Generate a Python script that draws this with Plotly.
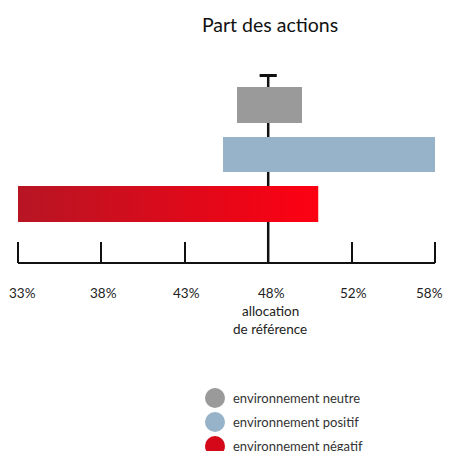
import plotly.graph_objects as go

# ---- data ----
categories = ["environnement neutre", "environnement positif", "environnement négatif"]
bar_start = [46.1, 45.3, 33.0]
bar_end = [50.0, 58.0, 51.0]
bar_colors = ["#9a9a9a", "#97b3c9", "#d00f1e"]
reference_value = 48
tick_vals = [33, 38, 43, 48, 53, 58]
tick_text = ["33%", "38%", "43%", "48%", "52%", "58%"]
title_text = "Part des actions"
reference_label = ["allocation", "de référence"]

# ---- layout geometry (page pixels; page body has an 8px margin) ----
OFF = 8
W = H = 451 - OFF
X0_PX, X1_PX = 18, 435          # page pixels of 33 % and 58 %
PAD = 3                          # keep end ticks off the plot edges
u_per_px = (tick_vals[-1] - tick_vals[0]) / (X1_PX - X0_PX)
x_range = [tick_vals[0] - PAD * u_per_px, tick_vals[-1] + PAD * u_per_px]
PW = (X1_PX - X0_PX) + 2 * PAD
L = X0_PX - OFF - PAD
R = W - L - PW
T, B = 40 - OFF, 188
PH = H - T - B
FONT = "Lato"

def px2x(px):
    return (px - OFF - L) / PW

def py2y(py):
    return (H - B - (py - OFF)) / PH

y_pos = list(range(len(categories)))
bar_w = 0.727
y_range = [3.192, -1.313]
cap_y = -0.596

fig = go.Figure()

fig.add_trace(go.Bar(
    y=y_pos,
    x=[e - s for s, e in zip(bar_start, bar_end)],
    base=bar_start,
    orientation="h",
    width=bar_w,
    marker=dict(color=bar_colors, line=dict(width=0)),
    showlegend=False,
    hoverinfo="skip",
))

# gradient overlay for the negative-environment bar
i = 2
fig.add_trace(go.Scatter(
    x=[bar_start[i], bar_end[i], bar_end[i], bar_start[i], bar_start[i]],
    y=[y_pos[i] - bar_w / 2, y_pos[i] - bar_w / 2, y_pos[i] + bar_w / 2,
       y_pos[i] + bar_w / 2, y_pos[i] - bar_w / 2],
    mode="none",
    fill="toself",
    fillgradient=dict(type="horizontal",
                      colorscale=[[0, "#b71524"], [1, "#fd0012"]]),
    showlegend=False,
    hoverinfo="skip",
))

shapes = [
    # axis baseline from first to last tick
    dict(type="line", xref="x", yref="paper", x0=tick_vals[0], x1=tick_vals[-1],
         y0=0, y1=0, line=dict(color="#111111", width=2)),
    # reference stem
    dict(type="line", xref="x", yref="y", x0=reference_value, x1=reference_value,
         y0=y_range[0], y1=cap_y, line=dict(color="#111111", width=2.5), layer="below"),
    # cap
    dict(type="line", xref="x", yref="y", xsizemode="pixel", xanchor=reference_value,
         x0=-8.6, x1=8.6, y0=cap_y, y1=cap_y, line=dict(color="#111111", width=3)),
]

annotations = []
# tick labels (drawn at the axis' tick values)
label_shift = [4, 2, 2, 3, 2, -6]
for v, t, sh in zip(tick_vals, tick_text, label_shift):
    annotations.append(dict(
        text=t, x=v, xref="x", y=py2y(293), yref="paper", xshift=sh,
        xanchor="center", yanchor="middle", showarrow=False,
        font=dict(family=FONT, size=13.5, color="#222222")))
for k, lab in enumerate(reference_label):
    annotations.append(dict(
        text=lab, x=reference_value, xref="x", y=py2y(311 + 18 * k), yref="paper",
        xanchor="center", yanchor="middle", showarrow=False, xshift=2,
        font=dict(family=FONT, size=13.5, color="#222222")))

# manual legend
leg_cy = [398, 422, 446]
leg_colors = ["#9a9a9a", "#97b3c9", "#d5081a"]
for cy, col, lab in zip(leg_cy, leg_colors, categories):
    shapes.append(dict(type="circle", xref="paper", yref="paper",
                       x0=px2x(205), x1=px2x(225), y0=py2y(cy - 10), y1=py2y(cy + 10),
                       fillcolor=col, line=dict(width=0)))
    annotations.append(dict(text=lab, x=px2x(231), xref="paper", y=py2y(cy), yref="paper",
                            xanchor="left", yanchor="middle", showarrow=False,
                            font=dict(family=FONT, size=13, color="#333333")))

fig.update_layout(
    width=W, height=H,
    autosize=False,
    margin=dict(l=L, r=R, t=T, b=B, pad=0, autoexpand=False),
    paper_bgcolor="white", plot_bgcolor="white",
    title=dict(text=title_text, x=px2x(270), xref="paper", xanchor="center",
               y=1 - (25 - OFF) / H, yref="container", yanchor="middle",
               font=dict(family=FONT, size=19.5, color="#111111")),
    xaxis=dict(range=x_range, tickvals=tick_vals, ticktext=tick_text,
               showticklabels=False,
               ticks="inside", ticklen=21, tickwidth=2, tickcolor="#111111",
               showline=False, showgrid=False, zeroline=False, fixedrange=True,
               automargin=False),
    yaxis=dict(range=y_range, visible=False, showgrid=False, zeroline=False,
               automargin=False),
    shapes=shapes,
    annotations=annotations,
    showlegend=False,
    bargap=0,
)

fig.write_html("out.html")
